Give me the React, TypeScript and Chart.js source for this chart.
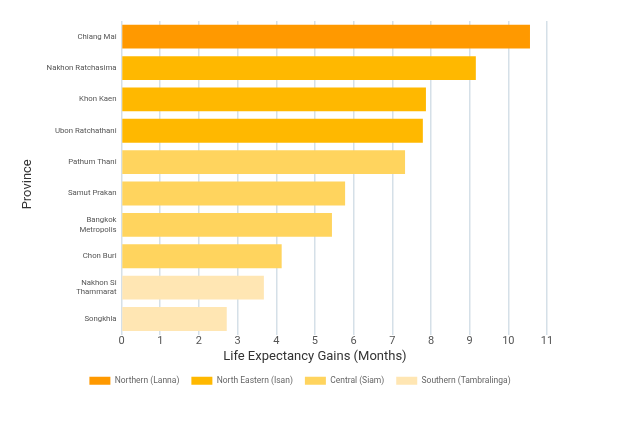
import React, { useEffect, useRef } from "react";
import { Chart, registerables } from "chart.js";

Chart.register(...registerables);

const provinces: (string | string[])[] = [
  "Chiang Mai",
  "Nakhon Ratchasima",
  "Khon Kaen",
  "Ubon Ratchathani",
  "Pathum Thani",
  "Samut Prakan",
  ["Bangkok", "Metropolis"],
  "Chon Buri",
  ["Nakhon Si", "Thammarat"],
  "Songkhla",
];
const gains = [10.56, 9.16, 7.87, 7.79, 7.33, 5.78, 5.44, 4.14, 3.68, 2.72];
const provinceRegion = [0, 1, 1, 1, 2, 2, 2, 2, 3, 3];
const regionNames = [
  "Northern (Lanna)",
  "North Eastern (Isan)",
  "Central (Siam)",
  "Southern (Tambralinga)",
];
const regionColors = ["#FF9900", "#FFB800", "#FFD45E", "#FFE6B3"];
const xTicksMax = 11;

const legendShift = {
  id: "legendShift",
  afterLayout(chart: any) {
    const lg = chart.legend;
    if (!lg) return;
    const target = 292;
    const dx = target - (lg.left + lg.right) / 2;
    lg.left += dx;
    lg.right += dx;
  },
};

export default function App() {
  const ref = useRef<HTMLCanvasElement | null>(null);
  useEffect(() => {
    if (!ref.current) return;
    const datasets = regionNames.map((name, r) => ({
      label: name,
      data: gains.map((g, i) => (provinceRegion[i] === r ? g : null)),
      backgroundColor: regionColors[r],
      borderWidth: 0,
      barPercentage: 0.76,
      categoryPercentage: 1,
      grouped: false,
    }));
    const font = "Roboto, 'Liberation Sans', Arial, sans-serif";
    const chart = new Chart(ref.current, {
      type: "bar",
      data: { labels: provinces as any, datasets: datasets as any },
      plugins: [legendShift],
      options: {
        indexAxis: "y",
        animation: false,
        responsive: false,
        maintainAspectRatio: false,
        layout: { padding: { top: 13, right: 45, bottom: 9, left: 12 } },
        plugins: {
          tooltip: { enabled: false },
          legend: {
            position: "bottom",
            labels: {
              boxWidth: 21,
              boxHeight: 8,
              color: "#666",
              font: { family: font, size: 8.5 },
              padding: 12,
            },
          },
        },
        scales: {
          x: {
            min: 0,
            max: xTicksMax,
            ticks: {
              stepSize: 1,
              color: "#555",
              font: { family: font, size: 11 },
              padding: 0,
            },
            grid: {
              color: "#D5E0E8",
              lineWidth: 1.5,
              drawTicks: false,
            },
            border: { display: false },
            title: {
              display: true,
              text: "Life Expectancy Gains (Months)            ",
              color: "#333",
              font: { family: font, size: 13 },
              padding: { top: 1, bottom: 0 },
            },
          },
          y: {
            ticks: {
              color: "#555",
              font: { family: font, size: 7.8 },
              padding: 5,
            },
            grid: { display: false, drawTicks: false },
            border: { display: false },
            title: {
              display: true,
              text: "Province    ",
              color: "#333",
              font: { family: font, size: 13 },
              padding: { top: 0, bottom: 6 },
            },
          },
        },
      },
    });
    return () => chart.destroy();
  }, []);
  return (
    <div style={{ width: 584, height: 396 }}>
      <canvas ref={ref} width={584} height={396} style={{ display: "block" }} />
    </div>
  );
}
